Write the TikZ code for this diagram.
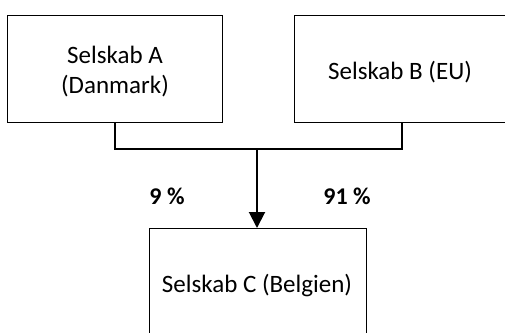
\documentclass[tikz,border=0pt]{standalone}
\usepackage{fontspec}
\setmainfont{Carlito}
\usetikzlibrary{arrows.meta}
\begin{document}
\begin{tikzpicture}[x=1pt,y=-1pt,
  company/.style={draw=black, line width=1.3pt, inner sep=0pt, anchor=north west},
  link/.style={draw=black, line width=2pt},
  share/.style={font=\fontsize{24}{28}\selectfont\bfseries},
  every node/.append style={font=\fontsize{25}{30}\selectfont}]
\useasboundingbox (0,0) rectangle (505,332);
\clip (0,0) rectangle (505,332);
% company boxes
\node[company, minimum width=215pt, minimum height=107pt] (a) at (7,15) {};
\node[company, minimum width=230pt, minimum height=107pt] (b) at (294,15) {};
\node[company, minimum width=217pt, minimum height=130pt] (c) at (149,228) {};
% labels
\node[align=center] (ta) at (115,72) {Selskab A\\(Danmark)};
\node (tb) at (400,72) {Selskab B (EU)};
\node (tc) at (257,285) {Selskab C (Belgien)};
% ownership connectors
\coordinate (ja) at (115,149);
\coordinate (jb) at (402,149);
\coordinate (jm) at (257,149);
\draw[link] (a.south west -| ja) -- (ja) -- (jb) -- (b.south west -| jb);
\draw[link, -{Triangle[width=16pt,length=16pt]}] (jm) -- (c.north west -| jm);
\node[share] (pa) at (167,196) {9 \%};
\node[share] (pb) at (347,196) {91 \%};
\end{tikzpicture}
\end{document}
